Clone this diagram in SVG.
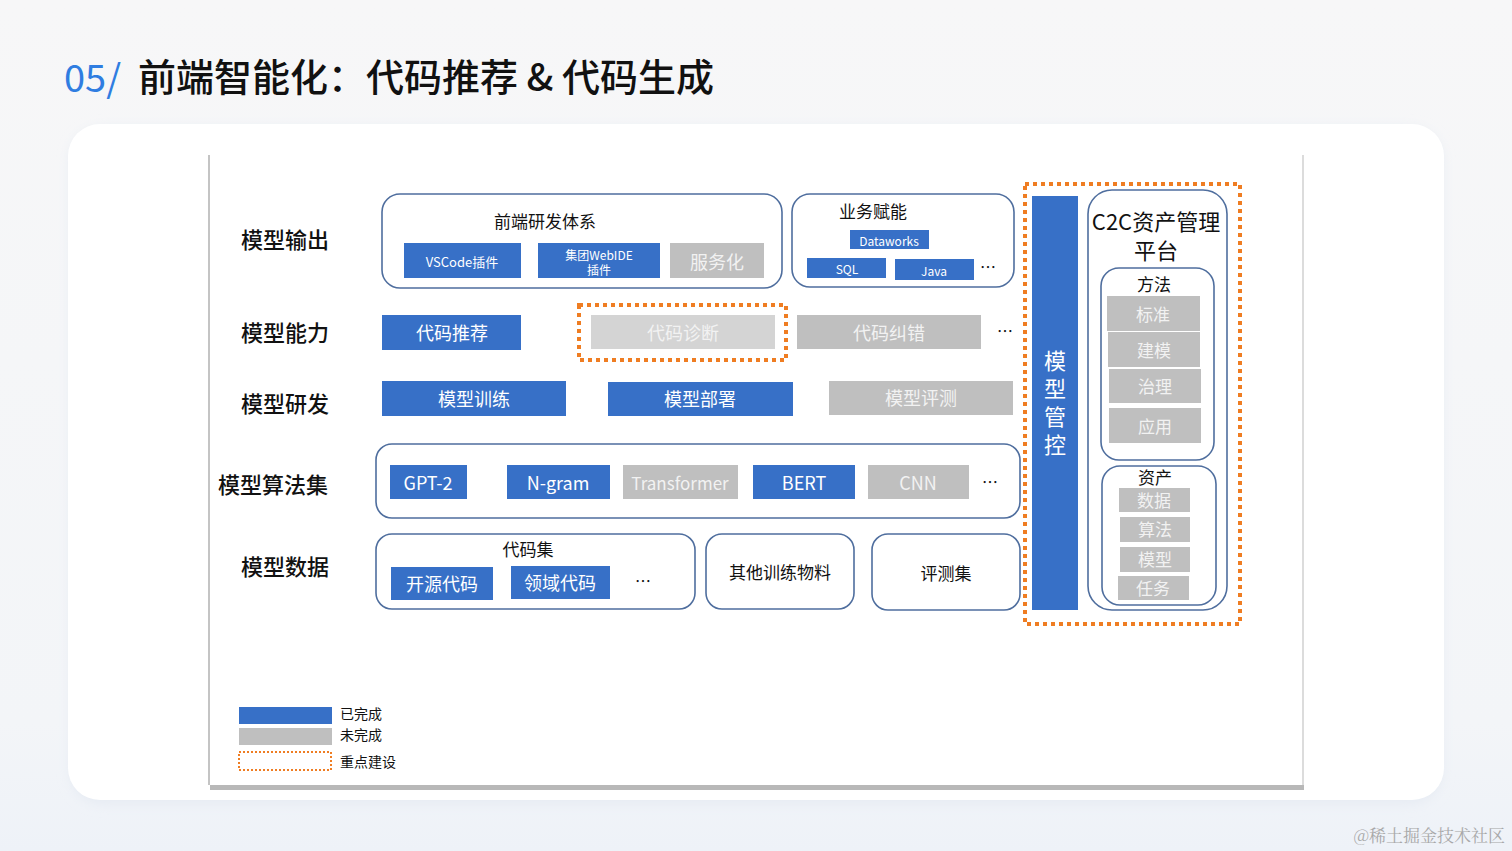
<svg xmlns="http://www.w3.org/2000/svg" width="1512" height="851" viewBox="0 0 1512 851">
<defs>
<linearGradient id="bg" x1="0" y1="0" x2="0" y2="1">
<stop offset="0" stop-color="#f7f7f8"/><stop offset="0.85" stop-color="#f3f5f8"/><stop offset="1" stop-color="#eef2f8"/>
</linearGradient>
<filter id="sh" x="-5%" y="-5%" width="110%" height="115%"><feGaussianBlur stdDeviation="6"/></filter>
<style>
.t{font-family:"Noto Sans CJK SC","Noto Sans",sans-serif;}
.lbl{font-size:22px;fill:#111;text-anchor:middle;dominant-baseline:central;font-weight:500;}
.grp{fill:#fff;stroke:#4f6e9e;stroke-width:1.6;}
.b{fill:#3770c7;}
.g{fill:#bfbfbf;}
.gl{fill:#d4d4d4;}
.wt{fill:#fff;text-anchor:middle;dominant-baseline:central;}
.gt{fill:#f2f2f2;text-anchor:middle;dominant-baseline:central;}
.dt{fill:#111;text-anchor:middle;dominant-baseline:central;}
.dot{fill:none;stroke:#ef7d22;stroke-width:4;stroke-dasharray:4 4;}
</style>
</defs>
<rect width="1512" height="851" fill="url(#bg)"/>
<rect x="70" y="128" width="1372" height="676" rx="32" fill="#e6ebf3" filter="url(#sh)"/>
<rect x="68" y="124" width="1376" height="676" rx="32" fill="#fff"/>
<g id="title">
<text x="64" y="92" class="t" font-size="38" fill="#2f7de1">05/</text>
<text x="138" y="91" class="t" font-size="38" font-weight="500" fill="#111">前端智能化：代码推荐 &amp; 代码生成</text>
</g>
<g id="frame">
<rect x="210" y="785" width="1094" height="5" fill="#b8b8b8"/>
<rect x="208" y="155" width="1095" height="630" fill="#fff"/>
<line x1="209" y1="155" x2="209" y2="785" stroke="#c4c4c4" stroke-width="2"/>
<line x1="1303" y1="155" x2="1303" y2="785" stroke="#d0d0d0" stroke-width="1.5"/>
</g>
<g id="row-labels" class="t">
<text x="285" y="238" class="lbl">模型输出</text>
<text x="285" y="331" class="lbl">模型能力</text>
<text x="285" y="402" class="lbl">模型研发</text>
<text x="273" y="483" class="lbl">模型算法集</text>
<text x="285" y="565" class="lbl">模型数据</text>
</g>
<g id="frontend" class="t">
<rect x="382" y="194" width="400" height="94" rx="18" class="grp"/>
<text x="545" y="220" class="dt" font-size="17">前端研发体系</text>
<rect x="404" y="243" width="117" height="35" class="b"/><text x="462" y="261" class="wt" font-size="13">VSCode插件</text>
<rect x="538" y="243" width="122" height="35" class="b"/><text x="599" y="254" class="wt" font-size="12">集团WebIDE</text><text x="599" y="269" class="wt" font-size="12">插件</text>
<rect x="670" y="243" width="94" height="35" class="g"/><text x="717" y="261" class="gt" font-size="18">服务化</text>
</g>
<g id="business" class="t">
<rect x="792" y="194" width="222" height="93" rx="18" class="grp"/>
<text x="873" y="210" class="dt" font-size="17">业务赋能</text>
<rect x="850" y="230" width="79" height="19" class="b"/><text x="889" y="240" class="wt" font-size="12">Dataworks</text>
<rect x="807" y="258" width="79" height="20" class="b"/><text x="847" y="268" class="wt" font-size="12">SQL</text>
<rect x="895" y="259" width="79" height="21" class="b"/><text x="934" y="270" class="wt" font-size="12">Java</text>
<text x="988" y="266" class="dt" font-size="16">…</text>
</g>
<g id="capability" class="t">
<rect x="382" y="315" width="139" height="35" class="b"/><text x="452" y="332" class="wt" font-size="18">代码推荐</text>
<rect x="591" y="315" width="184" height="34" class="gl"/><text x="683" y="332" class="gt" font-size="18">代码诊断</text>
<rect x="579" y="305" width="207" height="55" class="dot"/>
<rect x="797" y="315" width="184" height="34" class="g"/><text x="889" y="332" class="gt" font-size="18">代码纠错</text>
<text x="1005" y="330" class="dt" font-size="16">…</text>
</g>
<g id="rnd" class="t">
<rect x="382" y="381" width="184" height="35" class="b"/><text x="474" y="398" class="wt" font-size="18">模型训练</text>
<rect x="608" y="382" width="185" height="34" class="b"/><text x="700" y="398" class="wt" font-size="18">模型部署</text>
<rect x="829" y="381" width="184" height="34" class="g"/><text x="921" y="397" class="gt" font-size="18">模型评测</text>
</g>
<g id="algorithms" class="t">
<rect x="376" y="444" width="644" height="74" rx="16" class="grp"/>
<rect x="390" y="465" width="77" height="34" class="b"/><text x="428" y="482" class="wt" font-size="18">GPT-2</text>
<rect x="507" y="465" width="103" height="34" class="b"/><text x="558" y="482" class="wt" font-size="18">N-gram</text>
<rect x="623" y="465" width="115" height="34" class="g"/><text x="680" y="482" class="gt" font-size="17">Transformer</text>
<rect x="753" y="465" width="102" height="34" class="b"/><text x="804" y="482" class="wt" font-size="18">BERT</text>
<rect x="868" y="465" width="101" height="34" class="g"/><text x="918" y="482" class="gt" font-size="18">CNN</text>
<text x="990" y="481" class="dt" font-size="16">…</text>
</g>
<g id="codeset" class="t">
<rect x="376" y="534" width="319" height="75" rx="16" class="grp"/>
<text x="528" y="548" class="dt" font-size="17">代码集</text>
<rect x="391" y="567" width="102" height="33" class="b"/><text x="442" y="583" class="wt" font-size="18">开源代码</text>
<rect x="511" y="566" width="99" height="33" class="b"/><text x="560" y="582" class="wt" font-size="18">领域代码</text>
<text x="643" y="580" class="dt" font-size="16">…</text>
</g>
<g id="other-data" class="t">
<rect x="706" y="534" width="148" height="75" rx="16" class="grp"/>
<text x="780" y="571" class="dt" font-size="17">其他训练物料</text>
</g>
<g id="evalset" class="t">
<rect x="872" y="534" width="148" height="76" rx="16" class="grp"/>
<text x="946" y="572" class="dt" font-size="17">评测集</text>
</g>
<g id="governance" class="t">
<rect x="1025" y="184" width="215" height="440" class="dot"/>
<rect x="1032" y="196" width="46" height="414" class="b"/>
<text x="1055" y="350" fill="#fff" font-size="22" writing-mode="vertical-rl" letter-spacing="6">模型管控</text>
</g>
<g id="c2c" class="t">
<rect x="1088" y="190" width="139" height="420" rx="24" class="grp"/>
<text x="1156" y="230" fill="#111" text-anchor="middle" font-size="22">C2C资产管理<tspan x="1156" dy="29">平台</tspan></text>
<rect x="1101" y="268" width="113" height="192" rx="18" class="grp"/>
<text x="1154" y="283" class="dt" font-size="17">方法</text>
<rect x="1107" y="296" width="93" height="35" class="g"/><text x="1153" y="313" class="gt" font-size="17">标准</text>
<rect x="1108" y="332" width="92" height="35" class="g"/><text x="1154" y="349" class="gt" font-size="17">建模</text>
<rect x="1109" y="369" width="92" height="34" class="g"/><text x="1155" y="385" class="gt" font-size="17">治理</text>
<rect x="1109" y="408" width="92" height="35" class="g"/><text x="1155" y="425" class="gt" font-size="17">应用</text>
<rect x="1102" y="466" width="114" height="139" rx="18" class="grp"/>
<text x="1155" y="476" class="dt" font-size="17">资产</text>
<rect x="1119" y="488" width="71" height="24" class="g"/><text x="1154" y="499" class="gt" font-size="17">数据</text>
<rect x="1120" y="517" width="70" height="25" class="g"/><text x="1155" y="528" class="gt" font-size="17">算法</text>
<rect x="1120" y="547" width="70" height="25" class="g"/><text x="1155" y="558" class="gt" font-size="17">模型</text>
<rect x="1118" y="576" width="71" height="24" class="g"/><text x="1153" y="587" class="gt" font-size="17">任务</text>
</g>
<g id="legend" class="t">
<rect x="239" y="707" width="93" height="17" class="b"/>
<text x="340" y="713" font-size="14" fill="#111" dominant-baseline="central">已完成</text>
<rect x="239" y="728" width="93" height="17" class="g"/>
<text x="340" y="734" font-size="14" fill="#111" dominant-baseline="central">未完成</text>
<rect x="239" y="752" width="92" height="18" fill="none" stroke="#ef7d22" stroke-width="2" stroke-dasharray="2 2"/>
<text x="340" y="761" font-size="14" fill="#111" dominant-baseline="central">重点建设</text>
</g>
<g id="connectors"></g>
<text x="1505" y="834" font-size="17" fill="#a8a8a8" text-anchor="end" dominant-baseline="central" font-family="'Noto Serif CJK SC','Noto Sans CJK SC',serif">@稀土掘金技术社区</text>
</svg>
